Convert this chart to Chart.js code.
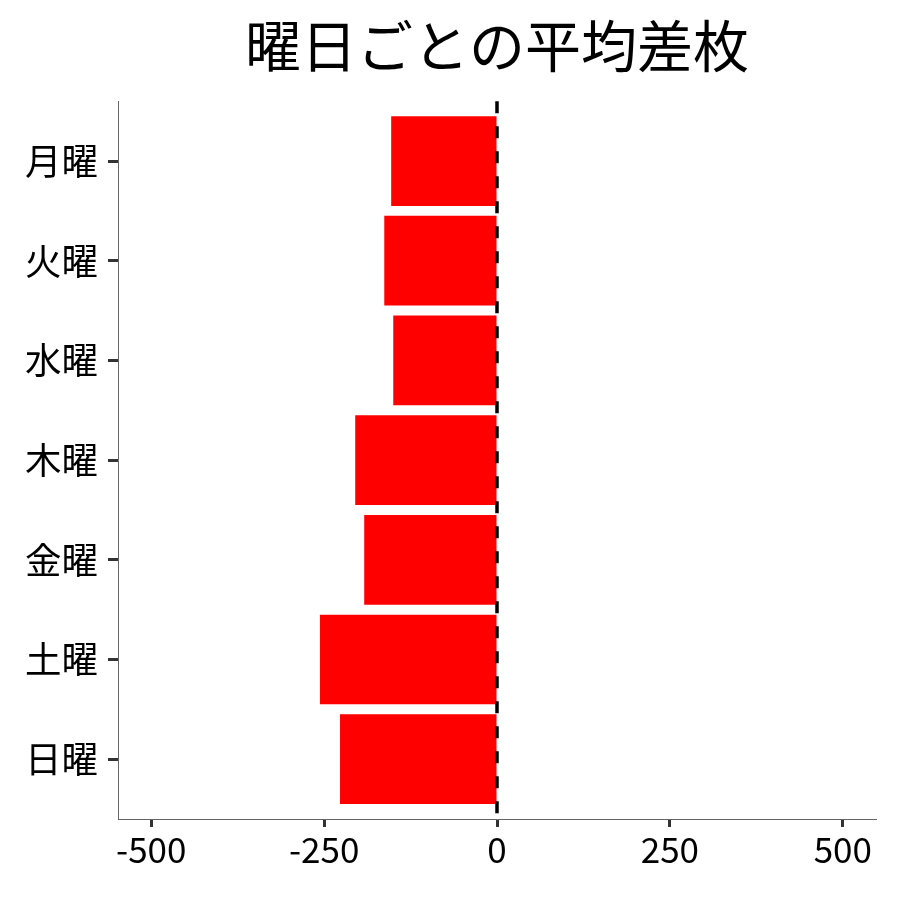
<!DOCTYPE html>
<html>
<head>
<meta charset="utf-8">
<script src="https://cdn.jsdelivr.net/npm/chart.js@4/dist/chart.umd.min.js"></script>
<style>
  html, body { margin: 0; padding: 0; background: #fff; }
</style>
</head>
<body>
<canvas id="dayChart" width="900" height="900"></canvas>
<script>
var days = ['月曜', '火曜', '水曜', '木曜', '金曜', '土曜', '日曜'];
var avgDiff = [-153, -163, -150, -205, -192, -256, -227];
var xTicks = [-500, -250, 0, 250, 500];
var titleText = '曜日ごとの平均差枚';

var FONT = "'Noto Sans CJK JP', 'Noto Sans', sans-serif";

// dashed reference line at x = 0
var zeroLine = {
    id: 'zeroLine',
    afterDatasetsDraw: function(chart) {
        var ctx = chart.ctx;
        var area = chart.chartArea;
        var x = chart.scales.x.getPixelForValue(0);
        ctx.save();
        ctx.strokeStyle = '#000';
        ctx.lineWidth = 3.5;
        ctx.setLineDash([12, 13]);
        ctx.beginPath();
        ctx.moveTo(x, area.top);
        ctx.lineTo(x, area.bottom);
        ctx.stroke();
        ctx.restore();
    }
};

var points = avgDiff.map(function(v, i) { return { x: v, y: i }; });

new Chart(document.getElementById('dayChart').getContext('2d'), {
    type: 'bar',
    data: {
        datasets: [{
            data: points,
            backgroundColor: '#ff0000',
            borderWidth: 0,
            categoryPercentage: 1,
            barPercentage: 0.9
        }]
    },
    options: {
        indexAxis: 'y',
        responsive: false,
        animation: false,
        devicePixelRatio: 1,
        layout: { padding: { left: 0, right: 24, top: 0, bottom: 0 } },
        plugins: {
            legend: { display: false },
            tooltip: { enabled: false },
            title: {
                display: true,
                text: titleText,
                color: '#000',
                font: { family: FONT, size: 56, weight: 'normal' },
                padding: { top: 12, bottom: 22 },
                fullSize: false
            }
        },
        scales: {
            x: {
                type: 'linear',
                min: -548,
                max: 548,
                afterBuildTicks: function(scale) {
                    scale.ticks = xTicks.map(function(v) { return { value: v }; });
                },
                afterFit: function(scale) { scale.height = 81; },
                grid: {
                    drawOnChartArea: false,
                    drawTicks: true,
                    tickLength: 8,
                    tickWidth: 3,
                    tickColor: '#333'
                },
                border: { color: '#666', width: 1 },
                ticks: {
                    color: '#000',
                    padding: 2,
                    font: { family: FONT, size: 35 },
                    maxRotation: 0
                }
            },
            y: {
                type: 'linear',
                min: -0.6,
                max: 6.6,
                reverse: true,
                offset: false,
                afterBuildTicks: function(scale) {
                    scale.ticks = days.map(function(d, i) { return { value: i }; });
                },
                afterFit: function(scale) { scale.width = 118; },
                grid: {
                    offset: false,
                    drawOnChartArea: false,
                    drawTicks: true,
                    tickLength: 10,
                    tickWidth: 3,
                    tickColor: '#333'
                },
                border: { color: '#666', width: 1 },
                ticks: {
                    color: '#000',
                    padding: 10,
                    font: { family: FONT, size: 36.5 },
                    callback: function(value) { return days[value]; }
                }
            }
        }
    },
    plugins: [zeroLine]
});
</script>
</body>
</html>
